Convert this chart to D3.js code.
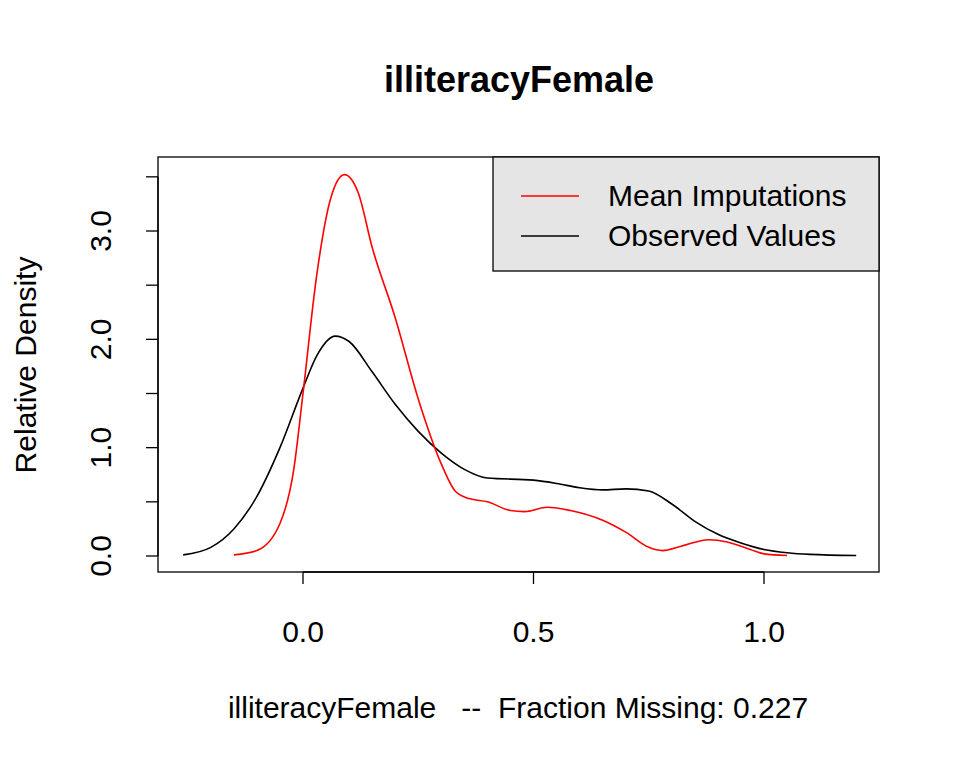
<!DOCTYPE html>
<html><head><meta charset="utf-8">
<script src="https://cdn.jsdelivr.net/npm/d3@7"></script>
<style>body{margin:0;background:#fff}text{font-family:"Liberation Sans",Arial,sans-serif;white-space:pre}</style>
</head><body><div id="chart"></div>
<script>
// observed density (black)
const obsX = [-0.26,-0.2,-0.15,-0.1,-0.05,0,0.03,0.07,0.1,0.15,0.2,0.25,0.3,0.35,0.4,0.5,0.55,0.6,0.65,0.7,0.75,0.8,0.85,0.9,0.95,1.0,1.05,1.1,1.2]
const obsY = [0.01,0.08,0.25,0.55,1.0,1.55,1.85,2.03,1.98,1.7,1.4,1.15,0.95,0.8,0.72,0.7,0.67,0.63,0.61,0.62,0.6,0.48,0.32,0.2,0.12,0.06,0.03,0.015,0.005]
// mean imputations density (red)
const impX = [-0.15,-0.1,-0.05,-0.02,0,0.03,0.06,0.09,0.12,0.15,0.2,0.25,0.3,0.33,0.36,0.4,0.45,0.48,0.53,0.58,0.65,0.7,0.75,0.78,0.82,0.88,0.92,0.97,1.0,1.05]
const impY = [0.01,0.05,0.3,0.8,1.5,2.6,3.3,3.52,3.35,2.85,2.2,1.45,0.85,0.6,0.53,0.5,0.42,0.41,0.45,0.42,0.33,0.22,0.08,0.05,0.09,0.15,0.13,0.06,0.02,0.005]
const xTicks = [0, 0.5, 1.0]
const yTicks = [0,0.5,1,1.5,2,2.5,3,3.5]
const yLabels = ["0.0","1.0","2.0","3.0"]
const legendLabels = ["Mean Imputations","Observed Values"]
const legendColors = ["#ff0000","#000000"]

const svg = d3.select("#chart").append("svg").attr("width",960).attr("height",768)
const x = d3.scaleLinear().domain([0,1]).range([303,764])
const y = d3.scaleLinear().domain([0,3]).range([556,231])
const P = {L:158,R:879,T:157,B:572}

const line = d3.line().x(d=>x(d[0])).y(d=>y(d[1])).curve(d3.curveMonotoneX)
svg.append("path").datum(obsX.map((v,i)=>[v,obsY[i]])).attr("d",line).attr("fill","none").attr("stroke","#000").attr("stroke-width",1.6)
svg.append("path").datum(impX.map((v,i)=>[v,impY[i]])).attr("d",line).attr("fill","none").attr("stroke","#ff0000").attr("stroke-width",1.6)

svg.append("rect").attr("x",P.L).attr("y",P.T).attr("width",P.R-P.L).attr("height",P.B-P.T).attr("fill","none").attr("stroke","#000").attr("stroke-width",1.3)

// x axis
const xa = svg.append("g")
xa.append("line").attr("x1",x(0)).attr("x2",x(1)).attr("y1",P.B).attr("y2",P.B).attr("stroke","#000").attr("stroke-width",1.3)
xTicks.forEach(t=>{
  xa.append("line").attr("x1",x(t)).attr("x2",x(t)).attr("y1",P.B).attr("y2",P.B+12).attr("stroke","#000").attr("stroke-width",1.3)
  xa.append("text").attr("x",x(t)).attr("y",642).attr("text-anchor","middle").attr("font-size",30).text(t.toFixed(1))
})
// y axis
const ya = svg.append("g")
ya.append("line").attr("x1",P.L).attr("x2",P.L).attr("y1",y(0)).attr("y2",y(3.5)).attr("stroke","#000").attr("stroke-width",1.3)
yTicks.forEach(t=>{
  ya.append("line").attr("x1",P.L-12).attr("x2",P.L).attr("y1",y(t)).attr("y2",y(t)).attr("stroke","#000").attr("stroke-width",1.3)
})
yLabels.forEach(s=>{
  ya.append("text").attr("transform",`translate(111,${y(+s)}) rotate(-90)`).attr("text-anchor","middle").attr("font-size",30).text(s)
})

svg.append("text").attr("x",519).attr("y",92).attr("text-anchor","middle").attr("font-size",36).attr("font-weight","bold").text("illiteracyFemale")
svg.append("text").attr("x",518).attr("y",718).attr("text-anchor","middle").attr("font-size",30).text("illiteracyFemale   --  Fraction Missing: 0.227")
svg.append("text").attr("transform","translate(36,365) rotate(-90)").attr("text-anchor","middle").attr("font-size",30).text("Relative Density")

// legend
const lg = svg.append("g")
lg.append("rect").attr("x",493).attr("y",P.T).attr("width",P.R-493).attr("height",114).attr("fill","#e5e5e5").attr("stroke","#000").attr("stroke-width",1.3)
legendLabels.forEach((s,i)=>{
  const yy = 196+i*40
  lg.append("line").attr("x1",521).attr("x2",579).attr("y1",yy).attr("y2",yy).attr("stroke",legendColors[i]).attr("stroke-width",1.6)
  lg.append("text").attr("x",608).attr("y",yy+10).attr("font-size",30).text(s)
})
</script></body></html>
